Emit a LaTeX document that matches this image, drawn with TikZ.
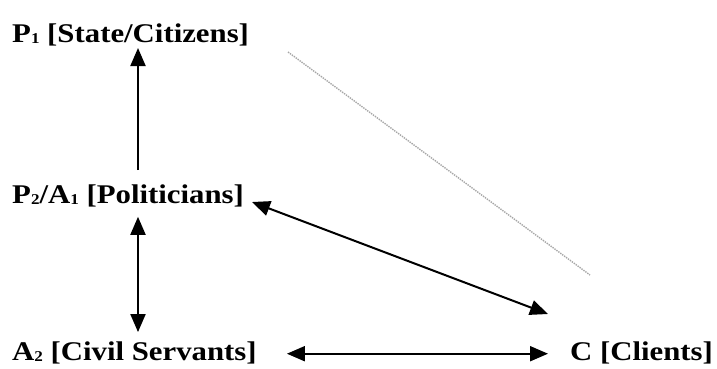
\documentclass[tikz,border=0pt]{standalone}
\usepackage{fontspec}
\setmainfont{Liberation Serif}[FakeStretch=1.14]
\usetikzlibrary{arrows.meta}
\newcommand{\subsc}[1]{\raisebox{-1pt}{\fontsize{15}{15}\selectfont #1}}
\begin{document}
\begin{tikzpicture}[x=1pt,y=-1pt,
  lbl/.style={anchor=base west,inner sep=0pt,font=\fontsize{27}{30}\selectfont\bfseries},
  tip/.tip={Triangle[length=18pt,width=15pt]},
  arr/.style={line width=2pt,-tip},
  darr/.style={line width=2pt,tip-tip},
  faint/.style={draw=gray!70,line width=1.4pt,densely dotted}]
\useasboundingbox (0,0) rectangle (717,368);
\node[lbl] (p1) at (12,42) {P\subsc{1} [State/Citizens]};
\node[lbl] (p2) at (12,203) {P\subsc{2}/A\subsc{1} [Politicians]};
\node[lbl] (a2) at (12,360) {A\subsc{2} [Civil Servants]};
\node[lbl] (c) at (570,360) {C [Clients]};
\coordinate (vx) at (138,0);
\coordinate (d1) at (252,202);
\coordinate (d2) at (548,314);
\coordinate (g1) at (288,52);
\coordinate (g2) at (590,275);
\draw[arr] (p2.north -| vx) ++(0,-14) -- (138,48);
\draw[darr] ([yshift=-10pt]p2.south -| vx) -- ([yshift=9pt]a2.north -| vx);
\draw[darr] ([xshift=30pt,yshift=4pt]a2.mid east) -- ([xshift=-22pt,yshift=4pt]c.mid west);
\draw[darr] (d1) -- (d2);
\draw[faint] (g1) -- (g2);
\end{tikzpicture}
\end{document}
